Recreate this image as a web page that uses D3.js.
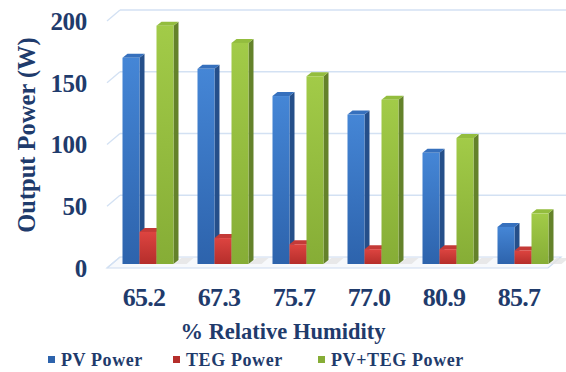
<!DOCTYPE html>
<html lang="en">
<head>
  <meta charset="UTF-8">
  <title>Output Power vs Relative Humidity</title>
  <script src="https://d3js.org/d3.v7.min.js"></script>
  <style>
    body {
      margin: 0;
      background: #fff;
    }
    text {
      font-family: "Liberation Serif", "Times New Roman", serif;
      font-weight: bold;
      fill: #1f3b6c;
    }
    .grid line {
      stroke: #d3e1f3;
      stroke-width: 1.3;
    }
  </style>
</head>
<body>
  <svg id="chart" width="566" height="372"></svg>

  <script>
    // data
    const humidity = ["65.2", "67.3", "75.7", "77.0", "80.9", "85.7"];
    const pvPower  = [167, 158, 136, 121, 90, 30];
    const tegPower = [26, 21, 16, 12, 12, 11];
    const sumPower = [193, 179, 152, 133, 102, 41];
    const seriesNames = ["PV Power", "TEG Power", "PV+TEG Power"];
    const yTicks = [0, 50, 100, 150, 200];

    const series = [pvPower, tegPower, sumPower];

    // colours: [front top, front bottom, side, cap]
    const palette = [
      ["#4586d6", "#2d63ac", "#254f8a", "#3670bd"],
      ["#dd4440", "#b52e2b", "#8c2523", "#c43a37"],
      ["#a2cb48", "#86ad36", "#64822a", "#93bd3e"]
    ];

    const svg = d3.select("#chart");

    // full depth of the 3d box (front plane -> back wall)
    const depthX = 13, depthY = -11;
    // bars sit a bit behind the front edge of the floor
    const barShiftY = -4;
    const barDepthX = 5, barDepthY = -4;

    // front plane scale (labels), back wall is offset by depth
    const y = d3.scaleLinear().domain([0, 200]).range([268, 21]);

    const x = d3.scaleBand()
      .domain(humidity)
      .range([110.5, 560.5])
      .paddingInner(0.32)
      .paddingOuter(0.16);

    const xSub = d3.scaleBand()
      .domain(d3.range(series.length))
      .range([0, x.bandwidth()]);

    const left = 107, right = 548;

    // gradients for bar fronts
    const defs = svg.append("defs");
    palette.forEach((c, i) => {
      const g = defs.append("linearGradient")
        .attr("id", "grad" + i)
        .attr("x1", 0).attr("y1", 0).attr("x2", 0).attr("y2", 1);
      g.append("stop").attr("offset", "0%").attr("stop-color", c[0]);
      g.append("stop").attr("offset", "100%").attr("stop-color", c[1]);
    });

    const pts = arr => arr.map(p => p.join(",")).join(" ");

    // floor
    svg.append("polygon")
      .attr("points", pts([
        [left, y(0)], [right, y(0)],
        [right + depthX, y(0) + depthY], [left + depthX, y(0) + depthY]
      ]))
      .attr("fill", "#f7f9fc")
      .attr("stroke", "#cddcf0")
      .attr("stroke-width", 1.2);

    // gridlines on the back wall + side wall diagonals
    const grid = svg.append("g").attr("class", "grid");
    grid.selectAll(".back")
      .data(yTicks.filter(d => d > 0))
      .join("line")
      .attr("x1", left + depthX).attr("x2", right + depthX + 12)
      .attr("y1", d => y(d) + depthY).attr("y2", d => y(d) + depthY);
    grid.selectAll(".side")
      .data(yTicks)
      .join("line")
      .attr("x1", left).attr("x2", left + depthX)
      .attr("y1", d => y(d)).attr("y2", d => y(d) + depthY);

    // bar shadows on the floor
    const shadows = svg.append("g");
    humidity.forEach(h => {
      const x0 = x(h) + x.bandwidth() + barDepthX;
      const yb = y(0) + barShiftY;
      shadows.append("polygon")
        .attr("points", pts([[x0 - 4, yb], [x0 + 8, yb], [x0 + 15, yb - 6], [x0 + 3, yb - 6]]))
        .attr("fill", "#e4e4e4")
        .attr("opacity", 0.8);
    });

    // 3d bars
    const bars = svg.append("g");
    humidity.forEach((h, i) => {
      series.forEach((s, k) => {
        const v = s[i];
        const x0 = x(h) + xSub(k);
        const w = xSub.bandwidth();
        const yTop = y(v) + barShiftY;
        const yBot = y(0) + barShiftY;
        const c = palette[k];
        const g = bars.append("g");
        // side
        g.append("polygon")
          .attr("points", pts([[x0 + w, yTop], [x0 + w + barDepthX, yTop + barDepthY],
            [x0 + w + barDepthX, yBot + barDepthY], [x0 + w, yBot]]))
          .attr("fill", c[2]);
        // top
        g.append("polygon")
          .attr("points", pts([[x0, yTop], [x0 + w, yTop],
            [x0 + w + barDepthX, yTop + barDepthY], [x0 + barDepthX, yTop + barDepthY]]))
          .attr("fill", c[3]);
        // front
        g.append("rect")
          .attr("x", x0).attr("y", yTop)
          .attr("width", w).attr("height", yBot - yTop)
          .attr("fill", `url(#grad${k})`);
      });
    });

    // y tick labels
    svg.append("g")
      .selectAll("text")
      .data(yTicks)
      .join("text")
      .attr("x", 87)
      .attr("y", d => y(d))
      .attr("dy", "0.35em")
      .attr("text-anchor", "end")
      .attr("font-size", 25)
      .attr("letter-spacing", -0.3)
      .text(d => d);

    // x tick labels
    svg.append("g")
      .selectAll("text")
      .data(humidity)
      .join("text")
      .attr("x", d => x(d) + x.bandwidth() / 2 - 4)
      .attr("y", 306)
      .attr("text-anchor", "middle")
      .attr("font-size", 26)
      .attr("letter-spacing", -0.8)
      .text(d => d);

    // axis titles
    svg.append("text")
      .attr("x", 283)
      .attr("y", 339)
      .attr("text-anchor", "middle")
      .attr("font-size", 22.5)
      .text("% Relative Humidity");

    svg.append("text")
      .attr("transform", "translate(35,135) rotate(-90)")
      .attr("text-anchor", "middle")
      .attr("font-size", 24.5)
      .text("Output Power (W)");

    // legend
    const legendX = [48, 173, 318];
    const legend = svg.append("g");
    seriesNames.forEach((name, k) => {
      legend.append("rect")
        .attr("x", legendX[k]).attr("y", 356)
        .attr("width", 7).attr("height", 7)
        .attr("fill", palette[k][1]);
      legend.append("text")
        .attr("x", legendX[k] + 13)
        .attr("y", 366)
        .attr("font-size", 18)
        .attr("letter-spacing", 0.6)
        .text(name);
    });
  </script>
</body>
</html>
